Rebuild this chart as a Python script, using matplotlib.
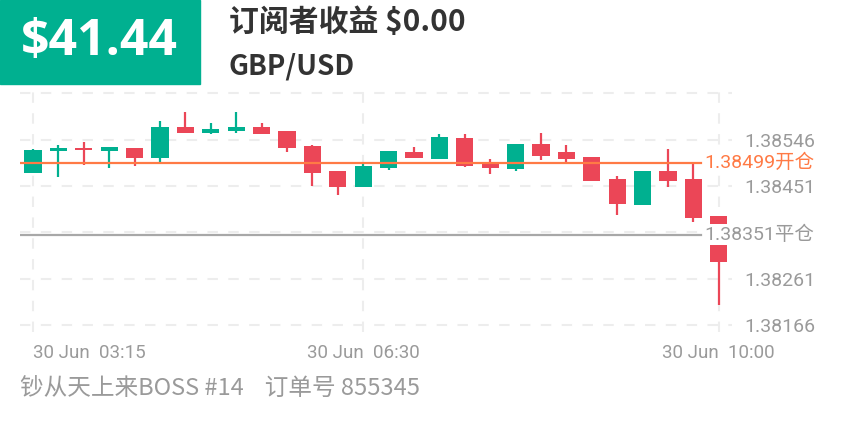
import numpy as np
import matplotlib
matplotlib.use('Agg')
import matplotlib.pyplot as plt
from matplotlib.patches import Rectangle

plt.rcParams['font.family'] = ['Roboto', 'Noto Sans CJK SC', 'DejaVu Sans']

# 15 minute candles, 30 Jun 03:15 .. 10:00
opens  = [1.38477, 1.38523, 1.38529, 1.38523, 1.38529, 1.38509, 1.38572, 1.38560,
          1.38563, 1.38573, 1.38563, 1.38533, 1.38482, 1.38449, 1.38488, 1.38521,
          1.38507, 1.38550, 1.38496, 1.38486, 1.38537, 1.38520, 1.38510, 1.38465,
          1.38412, 1.38482, 1.38465, 1.38390]
closes = [1.38525, 1.38530, 1.38524, 1.38531, 1.38509, 1.38572, 1.38559, 1.38568,
          1.38573, 1.38558, 1.38530, 1.38478, 1.38449, 1.38493, 1.38522, 1.38508,
          1.38551, 1.38493, 1.38489, 1.38537, 1.38513, 1.38506, 1.38462, 1.38414,
          1.38482, 1.38462, 1.38386, 1.38296]
highs  = [1.38527, 1.38535, 1.38542, 1.38531, 1.38529, 1.38584, 1.38603, 1.38580,
          1.38603, 1.38580, 1.38563, 1.38536, 1.38482, 1.38498, 1.38522, 1.38531,
          1.38558, 1.38558, 1.38506, 1.38537, 1.38559, 1.38535, 1.38510, 1.38471,
          1.38482, 1.38527, 1.38501, 1.38390]
lows   = [1.38477, 1.38469, 1.38495, 1.38488, 1.38493, 1.38497, 1.38559, 1.38558,
          1.38560, 1.38558, 1.38520, 1.38452, 1.38432, 1.38449, 1.38484, 1.38508,
          1.38507, 1.38491, 1.38476, 1.38481, 1.38504, 1.38501, 1.38462, 1.38392,
          1.38412, 1.38450, 1.38377, 1.38207]

grid_prices = [1.38641, 1.38546, 1.38451, 1.38356, 1.38261, 1.38166]
price_labels = ['', '1.38546', '1.38451', '', '1.38261', '1.38166']
time_idx = [0, 13, 27]
time_labels = ['30 Jun  03:15', '30 Jun  06:30', '30 Jun  10:00']

open_price = 1.38499
close_price = 1.38351
profit = '$41.44'
sub_profit = '订阅者收益 $0.00'
symbol = 'GBP/USD'
footer = '钞从天上来BOSS #14    订单号 855345'

GREEN = '#00B090'
RED = '#EB4657'
ORANGE = '#FF7A45'
GRID = '#EDEDED'
TXT = '#9A9A9A'

W, H = 844, 422
fig = plt.figure(figsize=(W / 100, H / 100), dpi=100)

# header
fig.patches.append(Rectangle((0, 1 - 84 / H), 200 / W, 84 / H, transform=fig.transFigure,
                             color=GREEN, zorder=0))
fig.text(99 / W, 1 - 42 / H, profit, color='white', fontsize=36, fontweight='bold',
         family=['Open Sans'], ha='center', va='center')
fig.text(229 / W, 1 - 22 / H, sub_profit, color='#333333', fontsize=21.5, fontweight='bold',
         family=['Noto Sans CJK SC'], ha='left', va='center')
fig.text(229 / W, 1 - 66 / H, symbol, color='#333333', fontsize=20, fontweight='bold',
         family=['Noto Sans CJK SC'], ha='left', va='center')

# chart area
ax = fig.add_axes([20 / W, (H - 332) / H, 712 / W, 242 / H])
ax.set_xlim(-0.51, 27.52)
ax.set_ylim(1.38152, 1.38648)
for s in ax.spines.values():
    s.set_visible(False)

for p in grid_prices:
    ax.axhline(p, color=GRID, lw=1.5, ls=(0, (5, 5)), zorder=0)
for i in time_idx:
    ax.axvline(i, color=GRID, lw=1.5, ls=(0, (5, 5)), zorder=0)

x = np.arange(len(opens))
o = np.array(opens); c = np.array(closes)
cols = [GREEN if cc >= oo else RED for oo, cc in zip(o, c)]
ax.vlines(x, lows, highs, colors=cols, lw=1.6, zorder=2)
ax.bar(x, np.abs(c - o), bottom=np.minimum(o, c), width=0.68, color=cols, zorder=3)

# open / close lines
ax.plot([-0.51, 26.3], [open_price, open_price], color=ORANGE, lw=1.6, zorder=4)
ax.plot([-0.51, 26.3], [close_price, close_price], color='#A8A8A8', lw=1.6, zorder=4)
ax.text(26.42, open_price, '%.5f开仓' % open_price, color=ORANGE, fontsize=14,
        va='center', ha='left', zorder=6, clip_on=False,
        bbox=dict(fc='white', ec='none', pad=1))
ax.text(26.42, close_price, '%.5f平仓' % close_price, color=TXT, fontsize=14,
        va='center', ha='left', zorder=6, clip_on=False,
        bbox=dict(fc='white', ec='none', pad=1))

ax.yaxis.tick_right()
ax.set_yticks(grid_prices)
ax.set_yticklabels(price_labels)
ax.tick_params(axis='y', length=0, pad=9, labelsize=14, labelcolor=TXT)
ax.set_xticks([])

for i, lab in zip(time_idx, time_labels):
    ha = 'left' if i == 0 else 'center'
    ax.annotate(lab, (i, 0), xycoords=('data', 'axes fraction'), xytext=(0, -15),
                textcoords='offset points', ha=ha, va='center', fontsize=13.5, color=TXT)

fig.text(20 / W, 1 - 388 / H, footer, color=TXT, fontsize=17, family=['Noto Sans CJK SC'],
         ha='left', va='center')

fig.savefig('out.png', dpi=100)
